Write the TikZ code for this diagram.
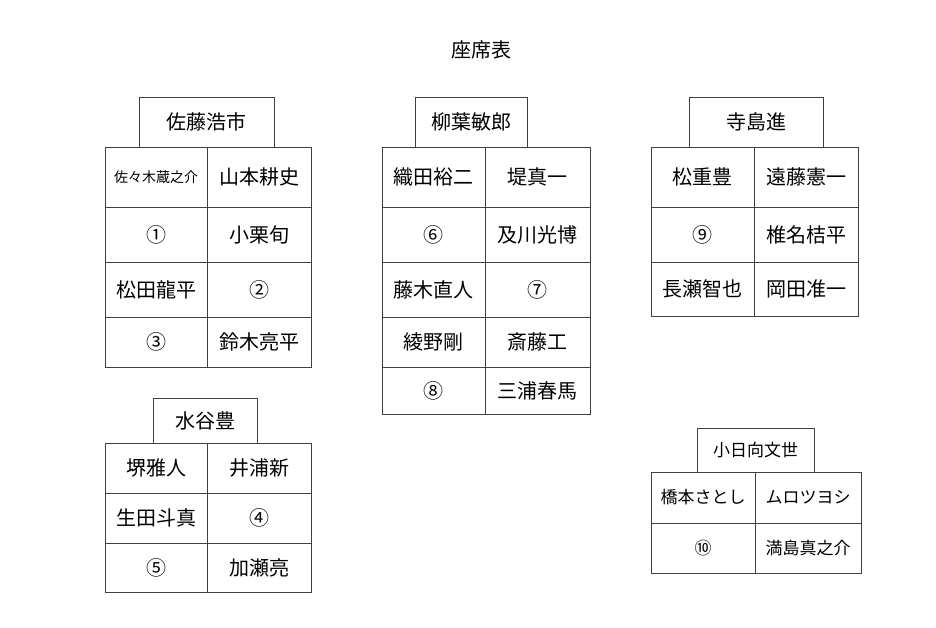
\documentclass[tikz,border=0pt]{standalone}
\usepackage{fontspec}
\setmainfont{Noto Sans CJK JP}
\begin{document}
\begin{tikzpicture}[x=1pt,y=-1pt,
  box/.style={draw=black!75,line width=0.9pt,inner sep=0pt,anchor=center}]
\useasboundingbox[fill=white] (0,0) rectangle (936,628);
\newcommand\cb[7][20pt]{%
  \node[box,minimum width={(#4-#2)*1pt},minimum height={(#5-#3)*1pt},font=\fontsize{#1}{#1}\selectfont]
   (#6) at ({(#2+#4)/2},{(#3+#5)/2}) {#7};}
\node[font=\fontsize{20pt}{20pt}\selectfont] (title) at (481,50) {座席表};
% group 1
\cb{139}{97}{274}{147}{h1}{佐藤浩市}
\cb[14pt]{105}{147}{207}{207}{a11}{佐々木蔵之介}
\cb{207}{147}{311}{207}{a12}{山本耕史}
\cb{105}{207}{207}{262}{a21}{①}
\cb{207}{207}{311}{262}{a22}{小栗旬}
\cb{105}{262}{207}{317}{a31}{松田龍平}
\cb{207}{262}{311}{317}{a32}{②}
\cb{105}{317}{207}{367}{a41}{③}
\cb{207}{317}{311}{367}{a42}{鈴木亮平}
% group 2
\cb{415}{97}{527}{147}{h2}{柳葉敏郎}
\cb{382}{147}{485}{207}{b11}{織田裕二}
\cb{485}{147}{590}{207}{b12}{堤真一}
\cb{382}{207}{485}{262}{b21}{⑥}
\cb{485}{207}{590}{262}{b22}{及川光博}
\cb{382}{262}{485}{317}{b31}{藤木直人}
\cb{485}{262}{590}{317}{b32}{⑦}
\cb{382}{317}{485}{367}{b41}{綾野剛}
\cb{485}{317}{590}{367}{b42}{斎藤工}
\cb{382}{367}{485}{414}{b51}{⑧}
\cb{485}{367}{590}{414}{b52}{三浦春馬}
% group 3
\cb{689}{97}{823}{147}{h3}{寺島進}
\cb{651}{147}{754}{207}{c11}{松重豊}
\cb{754}{147}{858}{207}{c12}{遠藤憲一}
\cb{651}{207}{754}{262}{c21}{⑨}
\cb{754}{207}{858}{262}{c22}{椎名桔平}
\cb{651}{262}{754}{316}{c31}{長瀬智也}
\cb{754}{262}{858}{316}{c32}{岡田准一}
% group 4
\cb{153}{398}{257}{443}{h4}{水谷豊}
\cb{105}{443}{207}{493}{d11}{堺雅人}
\cb{207}{443}{311}{493}{d12}{井浦新}
\cb{105}{493}{207}{543}{d21}{生田斗真}
\cb{207}{493}{311}{543}{d22}{④}
\cb{105}{543}{207}{592}{d31}{⑤}
\cb{207}{543}{311}{592}{d32}{加瀬亮}
% group 5
\cb[17pt]{697}{428}{814}{472}{h5}{小日向文世}
\cb[17pt]{651}{472}{755}{523}{e11}{橋本さとし}
\cb[17pt]{755}{472}{861}{523}{e12}{ムロツヨシ}
\cb[17pt]{651}{523}{755}{573}{e21}{⑩}
\cb[17pt]{755}{523}{861}{573}{e22}{満島真之介}
\end{tikzpicture}
\end{document}
